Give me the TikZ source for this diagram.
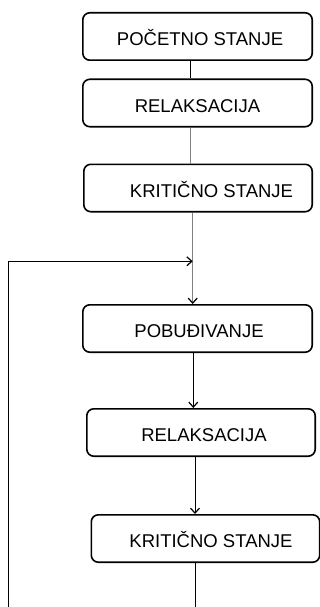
\documentclass[tikz,border=0pt]{standalone}
\usepackage{fontspec}
\setmainfont{Liberation Sans}
\usetikzlibrary{arrows.meta}
\begin{document}
\begin{tikzpicture}[x=1pt,y=-1pt,
  box/.style={draw, line width=1.6pt, rounded corners=7pt, minimum width=229.4pt,
    minimum height=47.4pt, inner sep=0pt, font=\fontsize{18.5}{20}\selectfont,
    text height=18.3pt, text depth=0pt},
  conn/.style={line width=0.8pt},
  faint/.style={conn, black!50},
  arr/.style={-{Straight Barb[length=5pt,width=9pt,line width=1.2pt,color=black]}}
]
\useasboundingbox (0,0) rectangle (320,607);
\node[box] (b1) at (197.5,36.5) {\hspace{5pt}POČETNO STANJE};
\node[box] (b2) at (197.5,103) {RELAKSACIJA\hspace{3pt}};
\node[box, minimum width=228.4pt] (b3) at (198,188) {\hspace{27pt}KRITIČNO STANJE};
\node[box] (b4) at (197.5,328.5) {\hspace{3pt}POBUĐIVANJE};
\node[box, minimum width=228.4pt] (b5) at (201,432.5) {\hspace{6pt}RELAKSACIJA};
\node[box, minimum width=228.4pt] (b6) at (205.5,538.5) {\hspace{11pt}KRITIČNO STANJE};
\coordinate (x1) at (190.7,0);
\coordinate (x2) at (190.2,0);
\coordinate (x3) at (192.7,0);
\coordinate (x4) at (193.3,0);
\coordinate (x5) at (195,0);
\coordinate (J) at (192.7,261.3);
\coordinate (Lb) at (8,607);
\coordinate (Rb) at (195,607);
\draw[conn] (b1.south -| x1) -- (b2.north -| x1);
\draw[faint] (b2.south -| x2) -- (b3.north -| x2);
\draw[faint, arr] (b3.south -| x3) -- (b4.north -| x3);
\draw[conn, arr] (Lb) |- (J);
\draw[conn, arr] (b4.south -| x4) -- (b5.north -| x4);
\draw[conn, arr] (b5.south -| x5) -- (b6.north -| x5);
\draw[conn] (b6.south -| x5) -- (Rb);
\end{tikzpicture}
\end{document}
